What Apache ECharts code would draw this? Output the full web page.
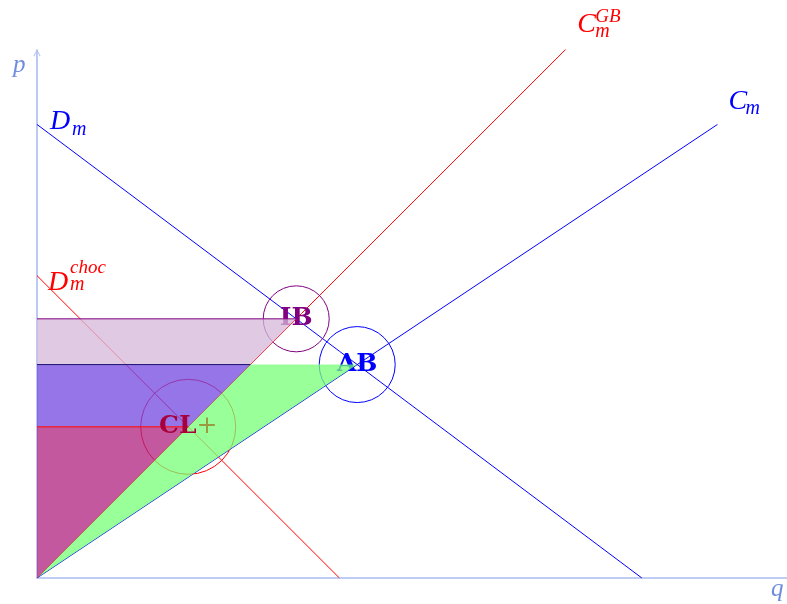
<!DOCTYPE html>
<html lang="fr">
<head>
<meta charset="UTF-8">
<title>Marché</title>
<script src="https://cdn.jsdelivr.net/npm/echarts@6/dist/echarts.min.js"></script>
<style>html,body{margin:0;padding:0;background:#fff}</style>
</head>
<body>
<div id="main" style="width:787px;height:604px"></div>
<script>
// droites en (q, p)
var demandM = [[0, 12], [16, 0]];
var supplyM = [[0, 0], [18, 12]];
var supplyGB = [[0, 0], [14, 14]];
var demandChoc = [[0, 8], [8, 0]];
var qMax = 19.84, pMax = 13.97;

function slope(l) { return (l[1][1] - l[0][1]) / (l[1][0] - l[0][0]); }
function cross(a, b) {
    var s1 = slope(a), s2 = slope(b);
    var x = (b[0][1] - a[0][1] + s1 * a[0][0] - s2 * b[0][0]) / (s1 - s2);
    return [x, a[0][1] + s1 * (x - a[0][0])];
}
function atPrice(l, p) { return [l[0][0] + (p - l[0][1]) / slope(l), p]; }

var pIB = cross(demandM, supplyGB);
var pAB = cross(demandM, supplyM);
var pCL = cross(demandChoc, supplyGB);
var gbAB = atPrice(supplyGB, pAB[1]);

var regions = [
    {pts: [[0, pAB[1]], gbAB, pIB, [0, pIB[1]]], color: 'rgba(214,184,218,0.75)'},
    {pts: [[0, pCL[1]], pCL, gbAB, [0, pAB[1]]], color: 'rgba(114,71,224,0.75)'},
    {pts: [[0, 0], pCL, [0, pCL[1]]], color: 'rgba(176,32,126,0.75)'},
    {pts: [[0, 0], gbAB, pAB], color: 'rgba(119,255,119,0.75)'}
];

var serif = '"Liberation Serif", "DejaVu Serif", serif';
var bold = '"DejaVu Serif", serif';

function seg(data, color, z) {
    return {
        type: 'line', data: data, showSymbol: false, silent: true, z: z || 1,
        lineStyle: {color: color, width: 1}
    };
}
function ring(pt, size, color, text) {
    return {
        value: pt, symbolSize: size,
        itemStyle: {color: 'rgba(0,0,0,0)', borderColor: color, borderWidth: 1, opacity: 1},
        label: {show: !!text, formatter: text, color: color}
    };
}

var MyChart = echarts.init(document.getElementById('main'));
var option = {
    animation: false,
    grid: {left: 37, right: 0, top: 50, bottom: 26},
    xAxis: {
        type: 'value', min: 0, max: qMax,
        axisLine: {lineStyle: {color: '#aabcf0', width: 1.6}},
        axisTick: {show: false}, axisLabel: {show: false}, splitLine: {show: false}
    },
    yAxis: {
        type: 'value', min: 0, max: pMax,
        axisLine: {
            show: true,
            symbol: ['none', 'path://M5,0 L10,9 L9,10 L5,2 L1,10 L0,9 Z'],
            symbolSize: [9, 7], symbolOffset: [0, -3],
            lineStyle: {color: '#aabcf0', width: 1.6}
        },
        axisTick: {show: false}, axisLabel: {show: false}, splitLine: {show: false}
    },
    series: [
        seg(demandM, '#0000ff'),
        seg(supplyM, '#0000ff'),
        seg(supplyGB, '#ff0000'),
        seg(demandChoc, '#ff0000'),
        {
            type: 'scatter', silent: true, z: 1,
            itemStyle: {opacity: 1},
            data: [
                ring(pIB, 66, '#800080', 'IB'),
                ring(pAB, 76, '#0000ff', 'AB'),
                ring(pCL, 95, '#ff0000', '')
            ],
            label: {
                show: true, position: 'inside',
                fontFamily: bold, fontWeight: 'bold', fontSize: 25
            }
        },
        {
            type: 'custom', silent: true, z: 2,
            data: regions.map(function (r, i) { return [i, 0]; }),
            renderItem: function (params, api) {
                var r = regions[api.value(0)];
                return {
                    type: 'polygon',
                    shape: {points: r.pts.map(function (p) { return api.coord(p); })},
                    style: {fill: r.color}
                };
            }
        },
        seg([[0, pIB[1]], pIB], '#800080', 4),
        seg([[0, pAB[1]], gbAB], '#1c1470', 4),
        seg([[0, pCL[1]], pCL], '#ff0000', 4),
        {
            type: 'scatter', silent: true, z: 4,
            symbolSize: 1, itemStyle: {color: 'rgba(0,0,0,0)', opacity: 1},
            data: [pCL],
            label: {
                show: true, position: 'inside', formatter: '{b|CL}{n|+}',
                rich: {
                    b: {fontFamily: bold, fontWeight: 'bold', fontSize: 25, color: '#a8003c'},
                    n: {fontFamily: bold, fontWeight: 'normal', fontSize: 25, color: '#9c9a40'}
                }
            }
        },
        {
            type: 'custom', silent: true, z: 5,
            data: [[0, 0]],
            renderItem: function (params, api) {
                function t(pt, dx, base, str, size, color) {
                    var c = api.coord(pt);
                    return {
                        type: 'text', x: c[0] + dx, y: c[1] + base - 0.34 * size,
                        style: {text: str, fill: color, align: 'left', verticalAlign: 'middle',
                            font: 'italic ' + size + 'px ' + serif}
                    };
                }
                var blue = '#0000ff', red = '#ff0000', ax = '#6f8be0';
                return {
                    type: 'group',
                    children: [
                        t(demandM[0], 13, 7, 'D', 28, blue),
                        t(demandM[0], 35, 12, 'm', 20, blue),
                        t(supplyM[1], 11, -13, 'C', 28, blue),
                        t(supplyM[1], 28, -9, 'm', 20, blue),
                        t(supplyGB[1], 11, -15, 'C', 28, red),
                        t(supplyGB[1], 29, -25, 'GB', 19, red),
                        t(supplyGB[1], 29, -10, 'm', 20, red),
                        t(demandChoc[0], 11, 17, 'D', 28, red),
                        t(demandChoc[0], 33, -1, 'choc', 19, red),
                        t(demandChoc[0], 33, 16, 'm', 20, red),
                        t([0, pMax], -24, 24, 'p', 25, ax),
                        t([qMax, 0], -16, 20, 'q', 25, ax)
                    ]
                };
            }
        }
    ]
};
MyChart.setOption(option);
</script>
</body>
</html>
